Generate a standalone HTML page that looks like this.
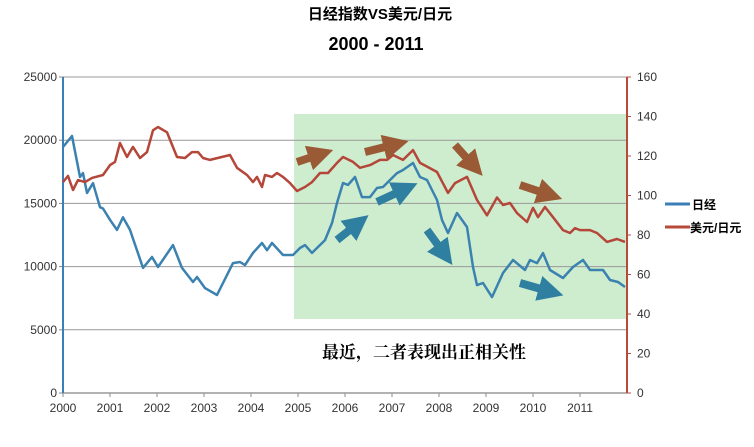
<!DOCTYPE html>
<html><head><meta charset="utf-8"><style>
body{margin:0;background:#fff;width:754px;height:442px;overflow:hidden}
text{font-family:"Liberation Sans","Noto Sans CJK SC",sans-serif}
</style></head><body>
<svg id="chart" width="754" height="442" viewBox="0 0 754 442" xmlns="http://www.w3.org/2000/svg">
<defs>
<marker id="ab" markerWidth="3.2" markerHeight="3.2" refX="1.2" refY="1.6" orient="auto"><path d="M0,0 L3.2,1.6 L0,3.2 Z" fill="#9a5a35"/></marker>
<marker id="at" markerWidth="3.2" markerHeight="3.2" refX="1.2" refY="1.6" orient="auto"><path d="M0,0 L3.2,1.6 L0,3.2 Z" fill="#2f7fa0"/></marker>
</defs>
<text x="380" y="19" text-anchor="middle" font-size="15" font-weight="bold">日经指数VS美元/日元</text>
<text x="376" y="50" text-anchor="middle" font-size="18" font-weight="bold">2000 - 2011</text>
<rect x="294" y="114" width="333" height="205" fill="#c9eac9" opacity="0.9"/>
<g id="grid"></g>
<g id="axes"></g>
<g id="series"></g>
<g stroke-width="8" fill="none">
<line x1="297" y1="162" x2="318" y2="155" stroke="#9a5a35" marker-end="url(#ab)"/>
<line x1="365" y1="152" x2="393" y2="145" stroke="#9a5a35" marker-end="url(#ab)"/>
<line x1="455" y1="145" x2="472" y2="164" stroke="#9a5a35" marker-end="url(#ab)"/>
<line x1="520" y1="185" x2="547" y2="194" stroke="#9a5a35" marker-end="url(#ab)"/>
<line x1="337" y1="240" x2="356" y2="225" stroke="#2f7fa0" marker-end="url(#at)"/>
<line x1="377" y1="202" x2="403" y2="190" stroke="#2f7fa0" marker-end="url(#at)"/>
<line x1="427" y1="230" x2="443" y2="252" stroke="#2f7fa0" marker-end="url(#at)"/>
<line x1="520" y1="283" x2="548" y2="291" stroke="#2f7fa0" marker-end="url(#at)"/>
</g>
<text x="322" y="358" font-size="17" style="font-family:'Noto Serif CJK SC',serif;font-weight:bold">最近，二者表现出正相关性</text>
<g>
<line x1="665" y1="204" x2="690" y2="204" stroke="#3b7fb8" stroke-width="3"/>
<text x="692" y="209" font-size="12" font-weight="bold">日经</text>
<line x1="665" y1="227" x2="690" y2="227" stroke="#b84a3a" stroke-width="3"/>
<text x="690" y="232" font-size="12" font-weight="bold">美元/日元</text>
</g>
</svg>
<script>
const yearTicks=["2000","2001","2002","2003","2004","2005","2006","2007","2008","2009","2010","2011"];
const leftTicks=[0,5000,10000,15000,20000,25000];
const rightTicks=[0,20,40,60,80,100,120,140,160];
const nikkeiX=[63,72,80,83,87,93,100,103,110,117,123,130,143,152,158,173,182,193,197,205,217,233,240,245,253,262,267,272,283,293,300,305,312,325,332,337,343,348,355,362,370,377,383,390,397,403,413,420,427,437,442,448,457,467,473,477,483,492,503,513,525,530,537,543,550,563,573,583,590,603,610,618,625];
const nikkeiVals=[19460,20330,17090,17400,15820,16600,14700,14600,13700,12900,13900,12900,9900,10760,9970,11700,9900,8780,9180,8300,7750,10280,10360,10120,11080,11870,11300,11870,10920,10920,11470,11700,11080,12100,13450,15030,16610,16460,17090,15500,15500,16220,16300,16850,17400,17640,18200,17090,16850,15270,13690,12660,14240,13130,9970,8540,8700,7590,9490,10520,9730,10520,10280,11070,9730,9100,9970,10520,9730,9730,8940,8780,8390];
const usdX=[63,68,73,78,85,92,103,110,115,120,127,133,140,147,153,158,167,177,185,192,198,203,210,230,237,247,253,257,262,265,272,277,283,290,297,305,312,320,328,337,343,353,360,370,380,387,393,403,413,420,428,437,448,455,467,477,487,497,503,510,517,527,533,538,545,553,563,570,575,580,590,597,607,617,625];
const usdVals=[106.8,109.9,102.8,107.8,106.8,108.9,110.4,115.4,117,126.6,119.5,124.6,119,122,133,134.7,132,119.5,119,122,122,119,118,120.5,114,110.4,106.8,109.4,104.3,110.4,109.4,111.4,109.4,106.3,102.3,104.3,106.8,111.4,111.4,116.5,119.5,117,114,115.4,118,118,120.5,118,123,116.5,114.4,111.9,101.3,106.3,109.4,97.7,90,99,95.2,96.2,91.1,86.6,93.7,89,94.2,89,82.5,81,83.5,82.5,82.5,81,76.5,78,76.5];
const X0=63,X1=627,Y0=393,Y1=77;
const tYear=i=>X0+i*(X1-X0)/12;
const yL=v=>Y0-v/25000*(Y0-Y1);
const yR=v=>Y0-v/160*(Y0-Y1);
const NS="http://www.w3.org/2000/svg";
function mk(tag,attrs,parent){const e=document.createElementNS(NS,tag);for(const k in attrs)e.setAttribute(k,attrs[k]);parent.appendChild(e);return e;}
const grid=document.getElementById('grid'),axes=document.getElementById('axes'),series=document.getElementById('series');
leftTicks.forEach(v=>{
  if(v>0){const g=mk('line',{x1:X0,x2:X1,y1:yL(v),y2:yL(v),stroke:'#999','stroke-width':1},grid);
  
  }
  const t=mk('text',{x:X0-6,y:yL(v)+4,'text-anchor':'end','font-size':12,fill:'#333'},axes);t.textContent=v;
  
  
  mk('line',{x1:X0-4,x2:X0,y1:yL(v),y2:yL(v),stroke:'#888'},axes);
});
rightTicks.forEach(v=>{
  const t=mk('text',{x:X1+10,y:yR(v)+4,'font-size':12,fill:'#333'},axes);t.textContent=v;
  
  
  mk('line',{x1:X1,x2:X1+4,y1:yR(v),y2:yR(v),stroke:'#b84a3a'},axes);
});
yearTicks.forEach((y,i)=>{
  const t=mk('text',{x:tYear(i),y:Y0+19,'text-anchor':'middle','font-size':12,fill:'#333'},axes);t.textContent=y;
  
  
  mk('line',{x1:tYear(i),x2:tYear(i),y1:Y0,y2:Y0+4,stroke:'#888'},axes);
});
const xa=mk('line',{x1:X0,x2:X1,y1:Y0,y2:Y0,stroke:'#999','stroke-width':1.5},axes);


const la=mk('line',{x1:X0,x2:X0,y1:Y1,y2:Y0,stroke:'#3b7fb8','stroke-width':2},axes);


const ra=mk('line',{x1:X1,x2:X1,y1:Y1,y2:Y0,stroke:'#b84a3a','stroke-width':2},axes);


const p1=mk('polyline',{points:nikkeiX.map((x,i)=>x+','+yL(nikkeiVals[i]).toFixed(1)).join(' '),fill:'none',stroke:'#3b82b0','stroke-width':2.5,'stroke-linejoin':'round'},series);


const p2=mk('polyline',{points:usdX.map((x,i)=>x+','+yR(usdVals[i]).toFixed(1)).join(' '),fill:'none',stroke:'#b5463a','stroke-width':2.5,'stroke-linejoin':'round'},series);


</script>
</body></html>
